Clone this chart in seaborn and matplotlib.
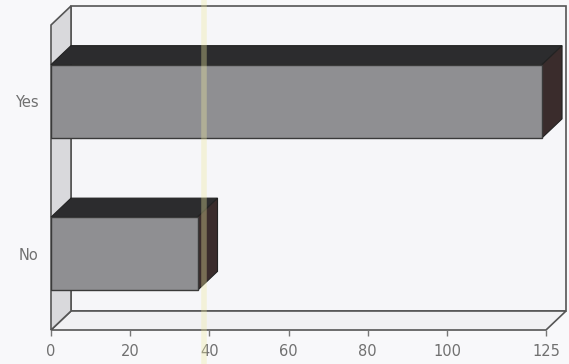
import matplotlib
matplotlib.use("Agg")
import matplotlib.pyplot as plt
from matplotlib.patches import Polygon
import seaborn as sns
import pandas as pd

# Survey answers
categories = ["Yes", "No"]
counts = [124, 37]
tick_values = [0, 20, 40, 60, 80, 100, 125]

sns.set_theme(style="white")
plt.rcParams["font.family"] = ["DejaVu Sans"]

W, H = 569, 364
fig = plt.figure(figsize=(W / 100, H / 100), dpi=100)
fig.patch.set_facecolor("#f8f8fa")

# front plane of the 3-D box, in pixels
left_px, right_px, bottom_px, top_px = 51, 546, 330, 25
ax = fig.add_axes([left_px / W, 1 - bottom_px / H,
                   (right_px - left_px) / W, (bottom_px - top_px) / H])
ax.set_facecolor("none")

xmax = 125
ylo, yhi = -0.5, 1.5
ax.set_xlim(0, xmax)
ax.set_ylim(yhi, ylo)

# depth of the box, converted from pixels to data units
depth_px_x, depth_px_y = 20, 19
dx = depth_px_x * xmax / (right_px - left_px)
dy = depth_px_y * (yhi - ylo) / (bottom_px - top_px)

line_kw = dict(edgecolor="#555555", linewidth=1.2, clip_on=False)

# back wall
ax.add_patch(Polygon([(dx, ylo - dy), (xmax + dx, ylo - dy),
                      (xmax + dx, yhi - dy), (dx, yhi - dy)],
                     closed=True, facecolor="#f6f6f9", zorder=0, **line_kw))
# floor
ax.add_patch(Polygon([(0, yhi), (xmax, yhi), (xmax + dx, yhi - dy), (dx, yhi - dy)],
                     closed=True, facecolor="#f1f1f3", zorder=0.5, **line_kw))
# left side wall
ax.add_patch(Polygon([(0, yhi), (0, ylo), (dx, ylo - dy), (dx, yhi - dy)],
                     closed=True, facecolor="#d9d9dc", zorder=0.6, **line_kw))

# faint vertical streak across the sheet
fig.add_artist(plt.Line2D([204 / W, 204 / W], [0, 1], transform=fig.transFigure,
                          color="#eeeaa0", linewidth=4, alpha=0.35, zorder=0.7))

df = pd.DataFrame({"answer": categories, "count": counts})
bar_h = 0.48
sns.barplot(data=df, x="count", y="answer", orient="h", ax=ax, width=bar_h,
            color="#8f8f92", saturation=1, edgecolor="#3a3a3a", linewidth=1.0,
            zorder=2)

# extrude each bar: top and right faces
for i, v in enumerate(counts):
    yt, yb = i - bar_h / 2, i + bar_h / 2
    ax.add_patch(Polygon([(0, yt), (v, yt), (v + dx, yt - dy), (dx, yt - dy)],
                         closed=True, facecolor="#2c2c2e", edgecolor="#222222",
                         linewidth=0.8, zorder=1.5, clip_on=False))
    ax.add_patch(Polygon([(v, yt), (v + dx, yt - dy), (v + dx, yb - dy), (v, yb)],
                         closed=True, facecolor="#3a2c2c", edgecolor="#222222",
                         linewidth=0.8, zorder=1.5, clip_on=False))

for s in ax.spines.values():
    s.set_visible(False)

ax.set_xticks(tick_values)
ax.set_xticklabels([str(t) for t in tick_values])
ax.tick_params(axis="x", length=4, width=1, color="#777777", direction="out",
               pad=6, labelsize=10.5, labelcolor="#707070", bottom=True)
ax.tick_params(axis="y", length=0, pad=9, labelsize=10.5, labelcolor="#707070")
ax.set_xlabel("")
ax.set_ylabel("")
ax.grid(False)

fig.savefig("out.png", dpi=100, facecolor=fig.get_facecolor())
